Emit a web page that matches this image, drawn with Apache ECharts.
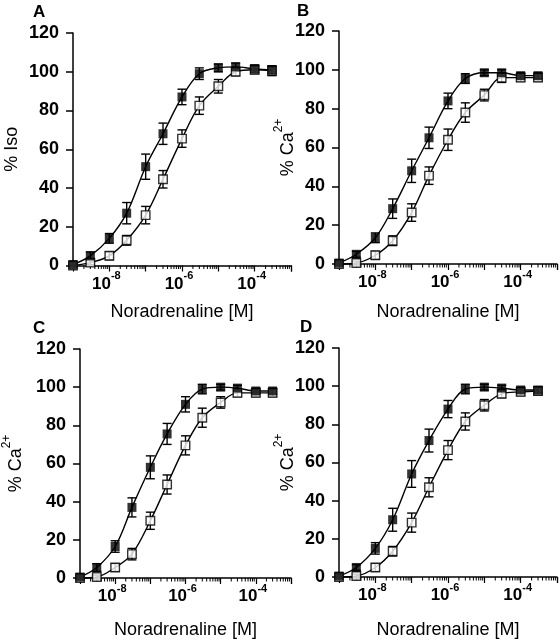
<!DOCTYPE html>
<html>
<head>
<meta charset="utf-8">
<script src="https://cdn.jsdelivr.net/npm/echarts@6/dist/echarts.min.js"></script>
<style>
html,body{margin:0;padding:0;background:#fff;}
#chart{width:560px;height:640px;}
</style>
</head>
<body>
<div id="chart"></div>
<script>
// Noradrenaline concentrations [M]
const conc = [1e-9, 3e-9, 1e-8, 3e-8, 1e-7, 3e-7, 1e-6, 3e-6, 1e-5, 3e-5, 1e-4, 3e-4];

// Panel A (% Iso)
const aFilled    = [0.5, 5, 14, 27, 51, 68, 87, 99, 102, 102.5, 101.5, 101];
const aFilledErr = [1, 2, 2.5, 5.5, 6.5, 5.5, 4, 3, 2, 2, 2, 2];
const aOpen      = [0, 1.5, 5, 13, 26, 44.5, 65.5, 82.5, 92.5, 100, 101, 100.5];
const aOpenErr   = [0.5, 1, 2, 2.5, 4.5, 4.5, 4.5, 4.5, 3.5, 2, 2, 2.5];

// Panel B (% Ca2+)
const bFilled    = [0.5, 5, 13.5, 28.5, 48, 65, 84, 95.5, 98.5, 98.5, 97, 97];
const bFilledErr = [1, 1.5, 2.5, 5, 6, 5.5, 4, 2.5, 1.5, 1.5, 1.5, 1.5];
const bOpen      = [0, 0.5, 4.5, 12, 26.5, 45.5, 64, 78, 87, 96, 96, 96];
const bOpenErr   = [0.5, 1, 2, 2.5, 4.5, 4.5, 5.5, 5, 3, 2.5, 2, 2];

// Panel C (% Ca2+)
const cFilled    = [0.5, 5.5, 16.5, 37, 58, 75.5, 91, 99, 100, 99.5, 98, 98];
const cFilledErr = [1, 2, 3, 5, 6, 5.5, 4, 2.5, 1.5, 1.5, 1.5, 1.5];
const cOpen      = [0, 0.5, 5.5, 12.5, 30, 49, 69.5, 84, 92, 97, 97, 97];
const cOpenErr   = [0.5, 1, 2, 3, 4.5, 5, 5, 5, 3, 2, 2, 2];

// Panel D (% Ca2+)
const dFilled    = [0.5, 5, 15, 30, 54, 71.5, 88, 98.5, 99.5, 99, 98, 98];
const dFilledErr = [1, 1.5, 3, 6, 7, 6, 4.5, 2.5, 1.5, 1.5, 1.5, 1.5];
const dOpen      = [0, 0.5, 5, 13.5, 28.5, 47, 66.5, 81.5, 90, 96, 97, 97.5];
const dOpenErr   = [0.5, 1, 2, 2.5, 5, 5, 5, 4.5, 3, 2, 2, 2];

// Labels
const panelLetters = ['A', 'B', 'C', 'D'];
const yTitles = ['{n|% Iso}', '{n|% Ca}{s|2+}', '{n|% Ca}{s|2+}', '{n|% Ca}{s|2+}'];
const xTitle = 'Noradrenaline [M]';
const xLabelExponents = [-8, -6, -4];

const panels = [
  {filled: aFilled, filledErr: aFilledErr, open: aOpen, openErr: aOpenErr},
  {filled: bFilled, filledErr: bFilledErr, open: bOpen, openErr: bOpenErr},
  {filled: cFilled, filledErr: cFilledErr, open: cOpen, openErr: cOpenErr},
  {filled: dFilled, filledErr: dFilledErr, open: dOpen, openErr: dOpenErr}
];

// layout
const grids = [
  {left: 73, top: 33, width: 218, height: 232.5},
  {left: 339, top: 31, width: 218, height: 233},
  {left: 73, top: 349, width: 218, height: 233},
  {left: 339, top: 348, width: 218, height: 233}
];
const letterPos = [[33, 4], [297, 3], [33, 320], [300, 319]];
const yNameGap = [52, 42, 55, 42];
const xNameGap = [38, 39, 43, 44];

const FONT = '"Liberation Sans", Arial, Helvetica, sans-serif';

// minor tick values (2..9 x each decade)
const minorTickValues = [];
for (let e = -9; e <= -4; e++) {
  for (let k = 2; k <= 9; k++) minorTickValues.push([k * Math.pow(10, e), 0]);
}

function errorBarRender(params, api) {
  const x = api.value(0), m = api.value(1), e = api.value(2);
  const top = api.coord([x, m + e]);
  const bot = api.coord([x, m - e]);
  const hw = 4.5;
  const st = {stroke: '#000', lineWidth: 1.4};
  return {
    type: 'group',
    children: [
      {type: 'line', shape: {x1: top[0], y1: top[1], x2: bot[0], y2: bot[1]}, style: st},
      {type: 'line', shape: {x1: top[0] - hw, y1: top[1], x2: top[0] + hw, y2: top[1]}, style: st},
      {type: 'line', shape: {x1: bot[0] - hw, y1: bot[1], x2: bot[0] + hw, y2: bot[1]}, style: st}
    ]
  };
}

function minorTickRender(params, api) {
  const p = api.coord([api.value(0), 0]);
  return {type: 'line', shape: {x1: p[0], y1: p[1], x2: p[0], y2: p[1] + 3.5}, style: {stroke: '#000', lineWidth: 1}};
}

const xAxes = [], yAxes = [], series = [], titles = [];
panels.forEach((p, i) => {
  xAxes.push({
    type: 'log', logBase: 10, gridIndex: i, min: 1e-9, max: 1e-3, splitNumber: 6,
    name: xTitle, nameLocation: 'middle', nameGap: xNameGap[i], nameMoveOverlap: false,
    nameTextStyle: {fontFamily: FONT, fontSize: 18, color: '#000'},
    axisLine: {show: true, onZero: false, lineStyle: {color: '#000', width: 1.5}},
    axisTick: {show: true, length: 6, lineStyle: {color: '#000', width: 1.2}},
    splitLine: {show: false},
    axisLabel: {
      margin: 5, color: '#000', fontFamily: FONT, padding: [0, 6, 0, 0],
      formatter: function (v) {
        const ex = Math.round(Math.log10(v));
        return xLabelExponents.indexOf(ex) >= 0 ? '{b|10}{s|' + ex + '}' : '';
      },
      rich: {
        b: {fontSize: 17, fontWeight: 'bold', fontFamily: FONT, color: '#000', lineHeight: 22, verticalAlign: 'bottom'},
        s: {fontSize: 11, fontWeight: 'bold', fontFamily: FONT, color: '#000', verticalAlign: 'top', lineHeight: 12}
      }
    }
  });
  yAxes.push({
    type: 'value', gridIndex: i, min: 0, max: 120, interval: 20,
    name: yTitles[i], nameLocation: 'middle', nameGap: yNameGap[i], nameRotate: 90, nameMoveOverlap: false,
    nameTextStyle: {
      fontFamily: FONT, color: '#000',
      rich: {
        n: {fontSize: 18, fontFamily: FONT, color: '#000', lineHeight: 24, verticalAlign: 'bottom'},
        s: {fontSize: 12, fontFamily: FONT, color: '#000', verticalAlign: 'top', lineHeight: 12}
      }
    },
    axisLine: {show: true, onZero: false, lineStyle: {color: '#000', width: 1.5}},
    axisTick: {show: true, length: 7, lineStyle: {color: '#000', width: 1.5}},
    splitLine: {show: false},
    axisLabel: {margin: 14, color: '#000', fontSize: 18, fontWeight: 'bold', fontFamily: FONT}
  });
  titles.push({
    text: panelLetters[i], left: letterPos[i][0], top: letterPos[i][1], padding: 0,
    textStyle: {fontFamily: FONT, fontSize: 17, fontWeight: 'bold', color: '#000'}
  });

  const mk = (arr) => conc.map((c, j) => [c, arr[j]]);
  const mkErr = (arr, err) => conc.map((c, j) => [c, arr[j], err[j]]);

  series.push({type: 'line', xAxisIndex: i, yAxisIndex: i, data: mk(p.filled), smooth: 0.35, showSymbol: false,
    lineStyle: {color: '#000', width: 1.4}, z: 2, silent: true, clip: false});
  series.push({type: 'line', xAxisIndex: i, yAxisIndex: i, data: mk(p.open), smooth: 0.35, showSymbol: false,
    lineStyle: {color: '#000', width: 1.4}, z: 2, silent: true, clip: false});
  series.push({type: 'custom', xAxisIndex: i, yAxisIndex: i, data: mkErr(p.open, p.openErr), renderItem: errorBarRender,
    encode: {x: 0, y: 1}, z: 3, silent: true, clip: false});
  series.push({type: 'custom', xAxisIndex: i, yAxisIndex: i, data: mkErr(p.filled, p.filledErr), renderItem: errorBarRender,
    encode: {x: 0, y: 1}, z: 3, silent: true, clip: false});
  series.push({type: 'scatter', xAxisIndex: i, yAxisIndex: i, data: mk(p.open), symbol: 'rect', symbolSize: 8.5,
    itemStyle: {color: '#fff', borderColor: '#000', borderWidth: 1.4}, z: 4, silent: true, clip: false});
  series.push({type: 'scatter', xAxisIndex: i, yAxisIndex: i, data: mk(p.filled), symbol: 'rect', symbolSize: 9,
    itemStyle: {color: '#000', borderColor: '#000', borderWidth: 0}, z: 5, silent: true, clip: false});
  series.push({type: 'custom', xAxisIndex: i, yAxisIndex: i, data: minorTickValues, renderItem: minorTickRender,
    encode: {x: 0, y: 1}, z: 1, silent: true, clip: false});
});

const chart = echarts.init(document.getElementById('chart'), null, {renderer: 'canvas'});
chart.setOption({
  animation: false,
  backgroundColor: '#fff',
  title: titles,
  grid: grids,
  xAxis: xAxes,
  yAxis: yAxes,
  series: series
});
</script>
</body>
</html>
